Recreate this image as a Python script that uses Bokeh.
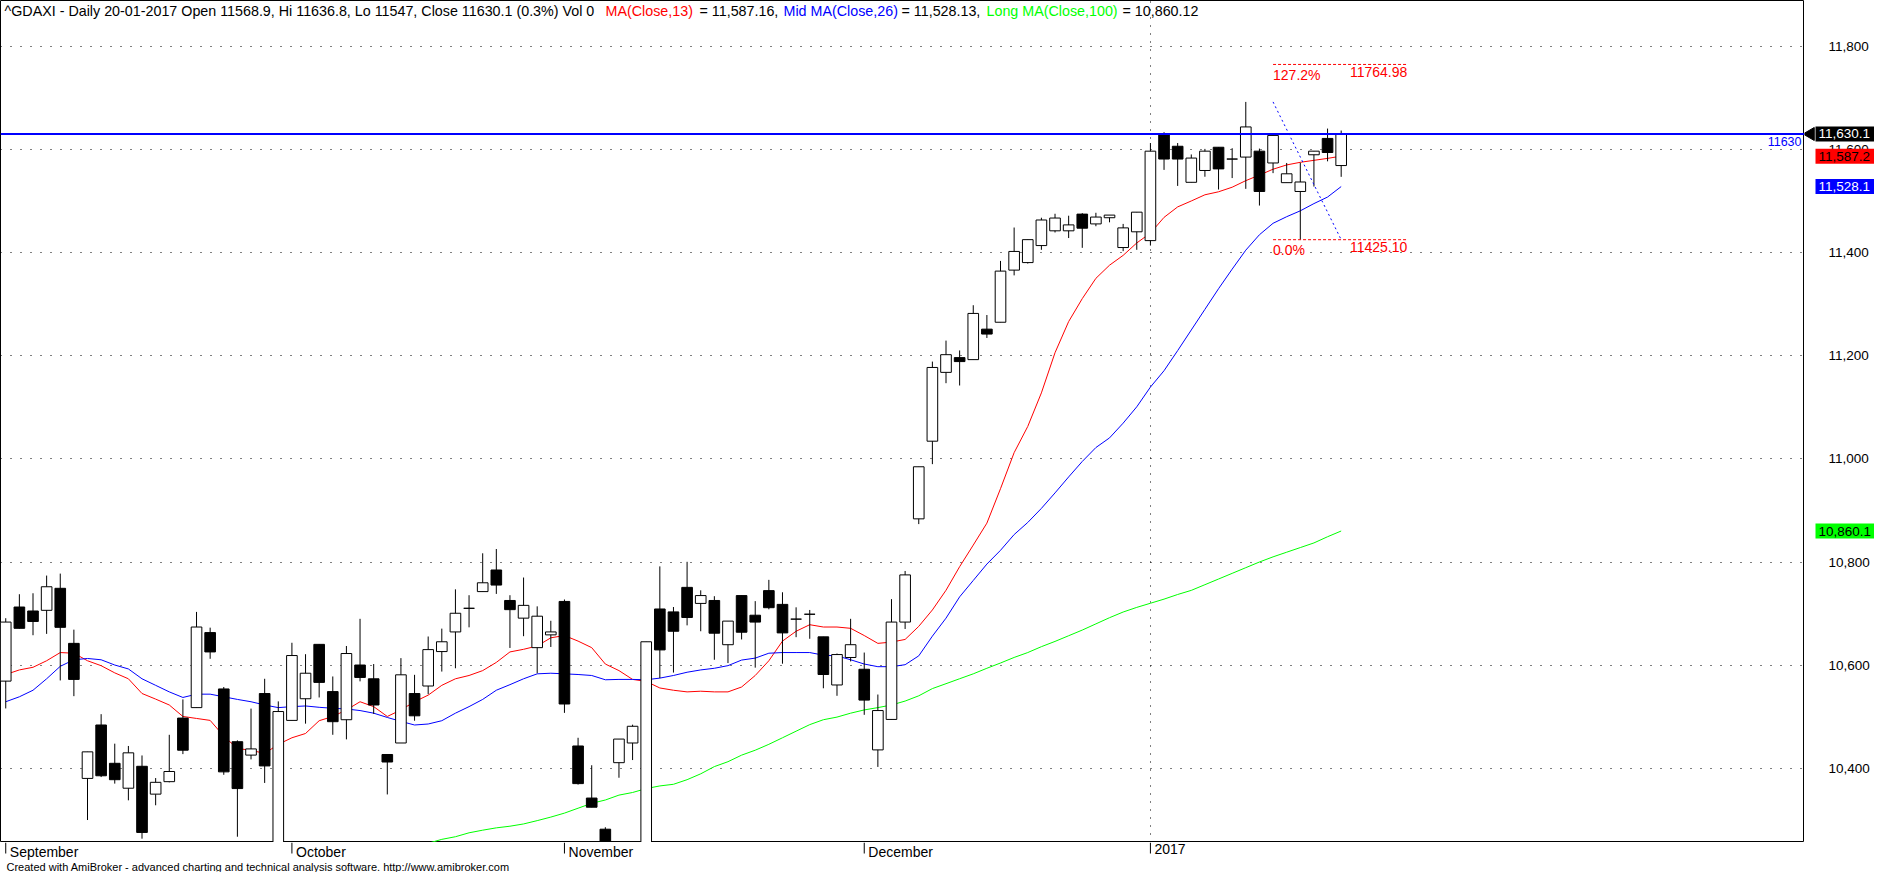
import math
from bokeh.plotting import figure
from bokeh.layouts import column, row
from bokeh.models import Range1d, FixedTicker, Label, Span, ColumnDataSource
from bokeh.core.properties import value
from bokeh.embed import file_html
from bokeh.resources import INLINE

FONT = "Liberation Sans"

# ---------------- data ----------------
opens = [10569, 10712.7, 10705, 10706.3, 10749, 10642.2, 10380.3, 10483.9, 10409.6, 10361.3,
         10403.8, 10349.8, 10374, 10497.3, 10517.6, 10663.1, 10553.8, 10451.5, 10425.5, 10544.9,
         10250, 10492.8, 10534.8, 10640.3, 10548.7, 10494.1, 10600.2, 10573.5, 10426.7, 10449,
         10544.9, 10559.5, 10626.3, 10664.4, 10710.2, 10742.6, 10784.5, 10725.4, 10691.1, 10633.9,
         10658.7, 10723.5, 10443.2, 10342.2, 10281.8, 10410.8, 10449, 10230, 10708.9, 10703.2,
         10750.8, 10719.7, 10725.4, 10639.6, 10734.9, 10696.8, 10744.5, 10717.8, 10689.2, 10698.7,
         10654.9, 10561.5, 10614.8, 10592, 10435.6, 10494.7, 10683.5, 10883.7, 11034.3, 11167.8,
         11196.4, 11192.5, 11251.6, 11265, 11366.1, 11380.7, 11413.7, 11442.3, 11442.3, 11474.7,
         11455.7, 11467.7, 11409.9, 11440.4, 11423.3, 11628.5, 11606.3, 11536.4, 11559.3, 11604.4,
         11581.5, 11585.3, 11596.8, 11573.9, 11535.7, 11518.6, 11589.8, 11621.5, 11568.9]
highs = [10691, 10737.5, 10739.4, 10773.7, 10777.5, 10668.8, 10432, 10504.9, 10447.7, 10443.2,
         10424.8, 10381, 10464.9, 10533.5, 10703.2, 10672.7, 10557.6, 10454.1, 10515.7, 10573.5,
         10529.7, 10643.4, 10621.2, 10640.3, 10578, 10637.1, 10689.8, 10602.1, 10426.7, 10613.6,
         10581.2, 10655.5, 10670.8, 10747, 10735.6, 10816.9, 10825.2, 10735.6, 10769.9, 10714,
         10686, 10727.3, 10459.1, 10405.8, 10285.6, 10456.6, 10484.5, 10645.3, 10791.5, 10712.7,
         10800.4, 10745.1, 10733.7, 10685.4, 10734.9, 10724.1, 10765.4, 10741.3, 10712.1, 10707,
         10654.9, 10622.5, 10689.8, 10624.4, 10543, 10728, 10782.6, 10984.7, 11188.7, 11229.4,
         11210.3, 11298, 11279, 11383.9, 11448.7, 11425.2, 11467.7, 11475.4, 11471.6, 11476.6,
         11477.3, 11472.8, 11455.7, 11478.5, 11612.6, 11633.6, 11612.6, 11590.4, 11601.2, 11604.4,
         11602.5, 11692.3, 11601.8, 11627.3, 11573.9, 11574.5, 11596.8, 11640.6, 11636.8]
lows = [10516, 10671, 10658, 10660.6, 10570.3, 10539.8, 10299.6, 10382.9, 10370.2, 10337.8,
        10263.4, 10328.2, 10372.7, 10427.4, 10517.6, 10612.3, 10387.3, 10267.2, 10417.2, 10371.5,
        10240, 10492.8, 10486.5, 10537.3, 10464.9, 10456, 10568.5, 10505.5, 10349.2, 10449,
        10492.2, 10543.7, 10587.5, 10593.9, 10673.3, 10742.6, 10738.1, 10633.3, 10656.1, 10584.3,
        10635.2, 10507.4, 10368.3, 10324.4, 10232, 10381.6, 10415.9, 10174, 10574.8, 10585.6,
        10677.1, 10665.7, 10610.4, 10604, 10649.8, 10595.1, 10708.3, 10602.8, 10654.2, 10651.1,
        10555.1, 10540.5, 10607.2, 10503.6, 10402.6, 10494.7, 10670.1, 10873.5, 10989.8, 11146.8,
        11142.3, 11192.5, 11234.5, 11265, 11355.9, 11378.8, 11405.5, 11439.1, 11428.3, 11409.3,
        11451.2, 11458.8, 11402.9, 11405.5, 11413.7, 11560.5, 11529.4, 11536.4, 11547.2, 11522.4,
        11544.6, 11523.7, 11491.3, 11554.2, 11535.7, 11425.1, 11528.1, 11577.1, 11547]
closes = [10683.5, 10671.4, 10684.7, 10752, 10673.3, 10572.3, 10431.8, 10385.4, 10377.8, 10429.9,
          10275.5, 10372.7, 10393.7, 10435, 10673.9, 10625.6, 10393, 10360.6, 10437.5, 10404.5,
          10510, 10618.6, 10584.3, 10566.5, 10490.3, 10622.5, 10576.1, 10522.7, 10412.1, 10581.2,
          10501.7, 10630.1, 10645.3, 10700.6, 10710.2, 10759.7, 10755.3, 10707.6, 10715.9, 10694.9,
          10664.4, 10524.6, 10370.2, 10324.4, 10250, 10456.6, 10481.4, 10645.3, 10629.5, 10665.7,
          10692.4, 10734.9, 10661.9, 10685.4, 10663.8, 10683.5, 10711.4, 10662.5, 10689.2, 10698.7,
          10581.8, 10620.5, 10639.6, 10532.2, 10511.9, 10683.5, 10775, 10984.7, 11177.3, 11202.1,
          11188.7, 11282.1, 11242.1, 11364.2, 11402.3, 11425.2, 11463.3, 11467.1, 11453.8, 11447.4,
          11469, 11472.8, 11448, 11478.5, 11596.8, 11581.5, 11581.5, 11583.4, 11596.8, 11562.4,
          11581.5, 11643.8, 11518.6, 11627.3, 11552.9, 11537, 11596.8, 11594.2, 11630.1]

ma13 = [10581.8, 10590.7, 10595.8, 10608.5, 10624.4, 10623.1, 10608.5, 10598.9, 10585.0, 10573.5,
        10545.0, 10534.1, 10522.7, 10500.4, 10496.6, 10492.8, 10462.3, 10438.2, 10435.0, 10428.6,
        10446.4, 10459.1, 10467.4, 10492.2, 10500.4, 10513.1, 10529.0, 10519.5, 10500.4, 10513.1,
        10529.0, 10541.8, 10560.8, 10573.5, 10579.9, 10589.4, 10605.3, 10625.6, 10630.7, 10637.1,
        10653.0, 10657.4, 10646.6, 10633.9, 10602.1, 10589.4, 10572.3, 10568.4, 10555.7, 10551.3,
        10548.1, 10549.4, 10548.1, 10548.1, 10557.6, 10579.9, 10608.5, 10646.6, 10665.7, 10678.4,
        10673.9, 10673.9, 10671.4, 10657.4, 10642.2, 10644.7, 10649.8, 10675.2, 10707.0, 10745.2,
        10790.9, 10832.8, 10875.4, 10942.2, 11012.1, 11062.9, 11128.0, 11205.9, 11266.3, 11310.8,
        11350.2, 11375.6, 11394.7, 11418.8, 11437.9, 11468.4, 11488.7, 11500.2, 11512.2, 11518.0,
        11526.9, 11539.6, 11550.4, 11561.8, 11570.1, 11575.2, 11579.0, 11582.8, 11587.16]
ma26 = [10529.0, 10538.6, 10551.3, 10573.5, 10597.7, 10610.4, 10612.9, 10610.4, 10600.2, 10592.6,
        10573.5, 10560.8, 10548.1, 10537.3, 10543.7, 10543.7, 10538.6, 10533.5, 10529.0, 10522.7,
        10517.6, 10519.5, 10520.8, 10518.2, 10516.3, 10515.0, 10511.9, 10506.8, 10498.5, 10490.9,
        10483.9, 10485.8, 10492.2, 10506.8, 10519.5, 10533.5, 10551.3, 10562.1, 10573.5, 10583.1,
        10584.3, 10583.1, 10581.8, 10579.9, 10571.6, 10572.3, 10572.3, 10571.6, 10574.8, 10579.9,
        10586.2, 10590.7, 10593.9, 10599.0, 10609.8, 10613.6, 10623.1, 10624.4, 10624.4, 10624.4,
        10619.3, 10618.0, 10610.4, 10602.1, 10597.0, 10597.0, 10600.8, 10618.0, 10656.2, 10691.1,
        10732.4, 10764.2, 10796.0, 10822.7, 10853.2, 10876.7, 10904.0, 10934.0, 10965.0, 10995.0,
        11022.0, 11040.7, 11069.3, 11101.0, 11139.2, 11171.0, 11210.0, 11250.0, 11290.0, 11330.0,
        11368.0, 11404.8, 11434.7, 11456.9, 11469.7, 11481.1, 11495.1, 11507.8, 11528.13]
MA100_FIRST_BAR = 31
ma100 = [10254.5, 10262.1, 10267.2, 10274.8, 10279.9, 10284.4, 10287.6, 10292.0, 10298.4, 10305.3,
         10313.0, 10322.5, 10332.0, 10338.4, 10347.9, 10353.0, 10360.6, 10365.7, 10368.9, 10377.8,
         10389.2, 10403.2, 10412.7, 10425.4, 10435.0, 10446.4, 10459.1, 10471.9, 10484.6, 10494.1,
         10499.2, 10506.8, 10513.1, 10517.6, 10522.7, 10530.3, 10540.5, 10554.5, 10564.0, 10573.6,
         10583.1, 10593.9, 10604.1, 10614.9, 10624.4, 10635.8, 10646.0, 10657.0, 10668.0, 10680.0,
         10692.0, 10703.0, 10712.0, 10720.0, 10728.0, 10737.0, 10745.0, 10756.0, 10767.0, 10778.0,
         10789.0, 10800.0, 10810.0, 10819.0, 10828.0, 10837.0, 10849.0, 10860.12]

month_labels = ["September", "October", "November", "December", "2017"]
month_bars = [0, 21, 41, 63, 84]
year_bars = [84]
price_ticks = [10400, 10600, 10800, 11000, 11200, 11400, 11600, 11800]

hline_level = 11630
fib_levels = [11764.98, 11425.10]
fib_pcts = ["127.2%", "0.0%"]
fib_bar_start = 93
fib_bar_end = 102.85
trend_bars = [93, 98]
trend_values = [11692.3, 11425.10]

badge_values = [10860.12, 11528.13, 11587.16, 11630.1]
badge_fills = ["#00FF00", "#0000FF", "#FF0000", "#000000"]
badge_texts = ["black", "white", "black", "white"]
last_close = 11630.1

title_parts = ["^GDAXI - Daily 20-01-2017 Open 11568.9, Hi 11636.8, Lo 11547, Close 11630.1 (0.3%) Vol 0",
               "MA(Close,13)", "= 11,587.16,", "Mid MA(Close,26)", "= 11,528.13,",
               "Long MA(Close,100)", "= 10,860.12"]
title_colors = ["black", "#FF0000", "black", "#0000FF", "black", "#00FF00", "black"]
title_x = [4, 605, 699, 783, 901, 986, 1122]

footer = "Created with AmiBroker - advanced charting and technical analysis software. http://www.amibroker.com"

# ---------------- main price panel ----------------
FW, FH = 1804, 842
RW, BH = 70, 30
p = figure(frame_width=FW, frame_height=FH, title=None,
           x_range=Range1d(-0.385, 132.0), y_range=Range1d(10256, 11889),
           output_backend="svg", toolbar_location=None,
           x_axis_location=None, y_axis_location=None,
           min_border_left=0, min_border_top=0, min_border_right=0, min_border_bottom=0,
           background_fill_color="white", border_fill_color="white",
           outline_line_color="black", outline_line_width=1)

p.ygrid.ticker = FixedTicker(ticks=price_ticks)
p.ygrid.grid_line_color = "black"
p.ygrid.grid_line_dash = "1 9"
p.xgrid.ticker = FixedTicker(ticks=year_bars)
p.xgrid.grid_line_color = "black"
p.xgrid.grid_line_dash = "1 7"

bars = list(range(len(closes)))

# moving averages (below the candles)
p.line(bars, ma13, line_color="#FF0000", line_width=1)
p.line(bars, ma26, line_color="#0000FF", line_width=1)
p.line(list(range(MA100_FIRST_BAR, MA100_FIRST_BAR + len(ma100))), ma100, line_color="#00FF00", line_width=1)

# candles
src = ColumnDataSource(dict(
    x=bars, low=lows, high=highs,
    top=[max(o, c) for o, c in zip(opens, closes)],
    bottom=[min(o, c) for o, c in zip(opens, closes)],
    fill=["white" if c >= o else "black" for o, c in zip(opens, closes)],
))
p.segment(x0="x", y0="low", x1="x", y1="high", source=src, line_color="black", line_width=1)
p.vbar(x="x", width=0.78, top="top", bottom="bottom", source=src,
       fill_color="fill", line_color="black", line_width=1)

# fibonacci levels and trend line
for lvl, pct in zip(fib_levels, fib_pcts):
    p.segment(x0=[fib_bar_start], y0=[lvl], x1=[fib_bar_end], y1=[lvl],
              line_color="#FF0000", line_width=1, line_dash="3 2")
    p.add_layout(Label(x=fib_bar_start, y=lvl - 5, text=pct, text_font=FONT, text_font_size="14px",
                       text_color="#FF0000", text_baseline="top", text_align="left"))
    p.add_layout(Label(x=fib_bar_end, y=lvl - 5, text=f"{lvl:.2f}", text_font=FONT, text_font_size="14px",
                       text_color="#FF0000", text_baseline="top", text_align="right"))
p.line(trend_bars, trend_values, line_color="#0000FF", line_width=1, line_dash="2 3")

# horizontal level line
p.add_layout(Span(location=hline_level, dimension="width", line_color="#0000FF", line_width=2))
p.add_layout(Label(x=FW - 3, x_units="screen", y=hline_level - 6, text=f"{hline_level}",
                   text_font=FONT, text_font_size="12.5px", text_color="#0000FF",
                   text_align="right", text_baseline="top"))

# title pieces
for txt, col, tx in zip(title_parts, title_colors, title_x):
    p.add_layout(Label(x=tx, y=FH - 2, x_units="screen", y_units="screen", text=txt,
                       text_font=FONT, text_font_size="14.3px", text_color=col,
                       text_baseline="top", text_align="left"))

# ---------------- right price scale panel ----------------
rp = figure(frame_width=RW, frame_height=FH, title=None, x_range=Range1d(0, RW), y_range=p.y_range,
            output_backend="svg", toolbar_location=None, x_axis_location=None, y_axis_location=None,
            min_border_left=0, min_border_top=0, min_border_right=0, min_border_bottom=0,
            background_fill_color="white", border_fill_color="white", outline_line_color=None)
rp.grid.visible = False
rp.text(x=[24] * len(price_ticks), y=price_ticks, text=[f"{t:,}" for t in price_ticks],
        text_font=value(FONT), text_font_size="13.5px", text_color="black",
        text_baseline="middle", text_align="left")
rp.rect(x=[40.5] * len(badge_values), y=badge_values, width=[59] * len(badge_values),
        height=[15] * len(badge_values), height_units="screen",
        fill_color=badge_fills, line_color=None)
rp.scatter(x=[6], y=[last_close], marker="triangle", size=13, angle=math.pi / 2,
           fill_color="black", line_color="black")
rp.text(x=[14] * len(badge_values), y=badge_values, text=[f"{v:,.1f}" for v in badge_values],
        text_font=value(FONT), text_font_size="13.5px", text_color=badge_texts,
        text_baseline="middle", text_align="left")

# ---------------- bottom date scale panel ----------------
bp = figure(frame_width=FW, frame_height=BH, title=None, x_range=p.x_range, y_range=Range1d(0, BH),
            output_backend="svg", toolbar_location=None, x_axis_location=None, y_axis_location=None,
            min_border_left=0, min_border_top=0, min_border_right=0, min_border_bottom=0,
            background_fill_color="white", border_fill_color="white", outline_line_color=None)
bp.grid.visible = False
bp.segment(x0=month_bars, y0=[BH] * len(month_bars), x1=month_bars, y1=[BH - 11] * len(month_bars),
           line_color="black", line_width=1)
bp.text(x=[b + 0.3 for b in month_bars], y=[BH - 1] * len(month_bars), text=month_labels,
        text_font=value(FONT), text_font_size="14px", text_color="black",
        text_baseline="top", text_align="left")
bp.text(x=[p.x_range.start], y=[BH - 18], text=[footer], x_offset=6,
        text_font=value(FONT), text_font_size="11px", text_color="black",
        text_baseline="top", text_align="left")

layout = column(row(p, rp), bp)
open("out.html", "w").write(file_html(layout, INLINE))
